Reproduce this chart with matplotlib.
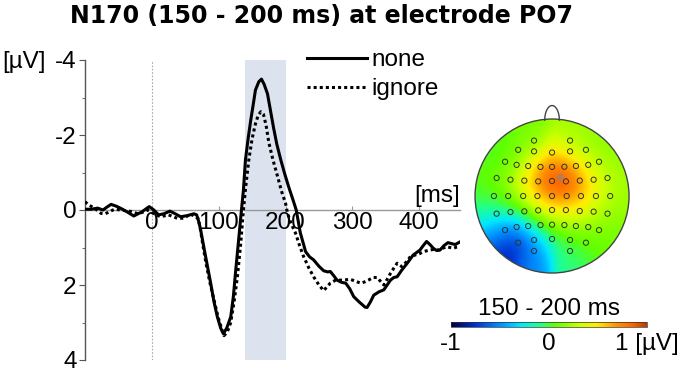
import numpy as np
import matplotlib
matplotlib.use("Agg")
import matplotlib.pyplot as plt
from matplotlib.colors import LinearSegmentedColormap
from matplotlib.patches import Circle
from matplotlib.transforms import blended_transform_factory

plt.rcParams['font.family'] = ['Liberation Sans', 'DejaVu Sans']
plt.rcParams['axes.unicode_minus'] = False

# ---------------- data ----------------
title = "N170 (150 - 200 ms) at electrode PO7"
series_labels = ["none", "ignore"]

t_none = [-100, -91, -81, -73, -67, -61, -53, -46, -37, -27, -15, -4, 3, 10, 18, 27, 35, 43, 53, 63,
          67, 70, 73, 80, 88, 93, 98, 103, 107, 112, 118, 122, 125, 129, 133, 137, 140, 144, 148, 152,
          155, 160, 164, 168, 173, 177, 182, 187, 193, 199, 205, 211, 216, 222, 230, 236, 242, 250, 257,
          263, 267, 272, 277, 284, 290, 296, 302, 310, 319, 322, 327, 332, 340, 347, 352, 357, 362, 367,
          374, 382, 391, 401, 406, 411, 416, 421, 426, 431, 437, 443, 449, 454, 461]
v_none = [-0.02, -0.02, -0.05, 0.0, -0.08, -0.15, -0.10, -0.04, 0.05, 0.16, 0.05, -0.09, 0.0, 0.13, 0.10,
          0.03, 0.10, 0.18, 0.15, 0.10, 0.13, 0.30, 0.53, 1.20, 1.95, 2.45, 2.85, 3.15, 3.30, 3.15, 2.85,
          2.30, 1.70, 0.95, 0.20, -0.53, -1.33, -1.90, -2.40, -2.85, -3.20, -3.42, -3.49, -3.35, -3.10,
          -2.70, -2.20, -1.75, -1.33, -0.95, -0.60, -0.28, 0.0, 0.60, 1.11, 1.25, 1.33, 1.50, 1.62, 1.65,
          1.64, 1.75, 1.87, 1.93, 1.95, 2.10, 2.31, 2.45, 2.59, 2.60, 2.45, 2.27, 2.18, 2.13, 2.00, 1.87,
          1.80, 1.78, 1.60, 1.42, 1.20, 1.07, 0.95, 0.84, 0.92, 1.02, 1.08, 1.07, 0.95, 0.87, 0.90, 0.92,
          0.85]

t_ignore = [-100, -94, -86, -76, -70, -66, -56, -46, -38, -31, -21, -12, -6, 2, 13, 25, 32, 38, 48, 58,
            64, 69, 72, 76, 81, 87, 93, 99, 105, 108, 113, 118, 123, 128, 133, 137, 140, 145, 150, 155,
            159, 163, 167, 171, 175, 181, 188, 194, 200, 203, 208, 215, 221, 227, 235, 242, 250, 257, 262,
            267, 275, 285, 297, 305, 312, 318, 324, 331, 337, 342, 347, 352, 357, 362, 367, 374, 380, 387,
            394, 401, 408, 416, 422, 428, 435, 441, 446, 451, 456, 461]
v_ignore = [-0.22, -0.13, -0.05, 0.09, 0.10, 0.07, -0.02, 0.0, 0.02, 0.04, 0.10, 0.05, 0.0, 0.09, 0.18,
            0.13, 0.18, 0.22, 0.22, 0.10, 0.18, 0.22, 0.44, 0.90, 1.42, 1.95, 2.40, 2.85, 3.20, 3.35, 3.25,
            3.00, 2.45, 1.78, 0.89, 0.0, -0.55, -1.33, -1.90, -2.30, -2.52, -2.62, -2.55, -2.25, -1.80,
            -1.35, -0.90, -0.50, -0.18, 0.09, 0.35, 0.62, 0.95, 1.24, 1.55, 1.78, 2.00, 2.15, 2.05, 1.95,
            1.87, 1.87, 1.85, 1.90, 1.95, 1.92, 1.87, 1.80, 1.80, 1.90, 2.00, 1.85, 1.69, 1.55, 1.42, 1.51,
            1.40, 1.24, 1.20, 1.16, 1.10, 1.07, 1.05, 1.07, 1.02, 0.98, 1.00, 1.02, 0.99, 0.98]

window = (140, 200)
x_ticks = [0, 100, 200, 300, 400]
y_ticks = [-4, -2, 0, 2, 4]

# electrode positions (head radius = 1) and map values [µV]
elec_x = [-0.234, 0.234,
          -0.44, -0.234, 0.0, 0.234, 0.44,
          -0.61, -0.46, -0.31, -0.15, 0.0, 0.16, 0.31, 0.47, 0.61,
          -0.72, -0.54, -0.36, -0.18, 0.0, 0.18, 0.36, 0.54, 0.72,
          -0.755, -0.57, -0.375, -0.19, 0.0, 0.19, 0.375, 0.57, 0.755,
          -0.72, -0.54, -0.36, -0.18, 0.0, 0.18, 0.36, 0.54, 0.72,
          -0.61, -0.46, -0.31, -0.15, 0.0, 0.16, 0.31, 0.47, 0.61,
          -0.44, -0.234, 0.0, 0.234, 0.44,
          -0.234, 0.234]
elec_y = [0.72, 0.72,
          0.60, 0.58, 0.565, 0.58, 0.60,
          0.445, 0.405, 0.39, 0.378, 0.378, 0.38, 0.39, 0.405, 0.445,
          0.234, 0.212, 0.20, 0.19, 0.195, 0.19, 0.20, 0.212, 0.234,
          0.0, 0.0, 0.0, 0.0, 0.0, 0.0, 0.0, 0.0, 0.0,
          -0.229, -0.208, -0.199, -0.186, -0.182, -0.182, -0.195, -0.203, -0.229,
          -0.442, -0.403, -0.39, -0.377, -0.372, -0.377, -0.39, -0.403, -0.442,
          -0.606, -0.571, -0.558, -0.571, -0.606,
          -0.714, -0.714]
elec_v = [0.10, 0.20,
          0.05, 0.25, 0.45, 0.35, 0.15,
          0.0, 0.15, 0.40, 0.65, 0.80, 0.80, 0.60, 0.35, 0.15,
          0.05, 0.20, 0.45, 0.75, 1.00, 1.00, 0.70, 0.45, 0.20,
          0.0, 0.10, 0.30, 0.55, 0.75, 0.75, 0.60, 0.40, 0.20,
          -0.20, -0.05, 0.10, 0.35, 0.50, 0.50, 0.45, 0.30, 0.15,
          -0.55, -0.60, -0.20, 0.0, 0.15, 0.20, 0.20, 0.15, 0.10,
          -0.90, -0.50, -0.15, 0.0, 0.05,
          -0.50, -0.10]
marked_x = [0.104]
marked_y = [0.242]
cbar_range = (-1, 1)
cbar_ticks = [-1, 0, 1]
cbar_ticklabels = ["-1", "0", "1 [µV]"]
cbar_title = "150 - 200 ms"

# ---------------- figure ----------------
W, H = 685, 373
fig = plt.figure(figsize=(W / 100, H / 100), dpi=100)
FS = 17.5

ax = fig.add_axes([85 / W, 13 / H, 375 / W, 300 / H])
ax.axvspan(window[0], window[1], color='#dce3ef', lw=0, zorder=0)
ax.axvline(0, color='#aaaaaa', lw=0.8, ls=(0, (1.5, 1.5)), zorder=1)
ax.plot(t_none, v_none, color='black', lw=2.2, label=series_labels[0], zorder=3)
ax.plot(t_ignore, v_ignore, color='black', lw=2.2, ls=(0, (1, 1)), label=series_labels[1], zorder=3)
ax.set_xlim(-100, 461)
ax.set_ylim(4, -4)

for s in ['top', 'right']:
    ax.spines[s].set_visible(False)
ax.spines['bottom'].set_position(('data', 0))
ax.spines['bottom'].set_color('#999999')
ax.spines['bottom'].set_linewidth(1.0)
ax.spines['left'].set_color('#555555')
ax.spines['left'].set_linewidth(1.0)

ax.set_xticks(x_ticks)
ax.set_yticks(y_ticks)
ax.set_yticks([-3, -1, 1, 3], minor=True)
ax.tick_params(axis='x', direction='in', length=3, color='#999999', labelsize=FS, pad=1.5)
ax.tick_params(axis='y', which='major', direction='out', length=4, color='#555555', labelsize=FS, pad=2)
ax.tick_params(axis='y', which='minor', direction='out', length=2, color='#555555')
ax.set_facecolor('none')

tr = blended_transform_factory(ax.transAxes, ax.transData)
ax.text(1.0, -0.08, "[ms]", transform=tr, ha='right', va='bottom', fontsize=FS)
fig.text(2 / W, 1 - 62 / H, "[µV]", ha='left', va='center', fontsize=FS)

leg = ax.legend(loc='upper left', bbox_to_anchor=(307 / W, 1 - 49 / H), bbox_transform=fig.transFigure,
                frameon=False, fontsize=FS, handlelength=2.45, handletextpad=0.2, labelspacing=0.3,
                borderpad=0, borderaxespad=0)

fig.text(321 / W, 1 - 23 / H, title, ha='center', va='baseline', fontsize=17,
         fontweight='bold', family='DejaVu Sans')

# ---------------- topomap ----------------
cmap = LinearSegmentedColormap.from_list('erp', [
    (0.0, '#000040'), (0.12, '#0030d0'), (0.25, '#0090ff'), (0.36, '#00e8ff'),
    (0.45, '#20ff90'), (0.53, '#60ff00'), (0.66, '#d0ff00'), (0.74, '#ffee00'),
    (0.85, '#ff9000'), (0.93, '#ff6000'), (1.0, '#b04008')])

tx = fig.add_axes([471.2 / W, (H - 276.9) / H, 161.7 / W, 181 / H])
tx.set_xlim(-1.05, 1.05)
tx.set_ylim(-1.05, 1.30)
tx.axis('off')

ex = np.array(elec_x)
ey = np.array(elec_y)
ev = np.array(elec_v)
g = np.linspace(-1, 1, 241)
GX, GY = np.meshgrid(g, g)
d2 = (GX[..., None] - ex) ** 2 + (GY[..., None] - ey) ** 2
wts = np.exp(-d2 / (2 * 0.15 ** 2)) + 1e-12
Z = (wts * ev).sum(-1) / wts.sum(-1)
Z = np.where(GX ** 2 + GY ** 2 <= 1.02, Z, np.nan)
im = tx.imshow(Z, extent=(-1, 1, -1, 1), origin='lower', cmap=cmap, vmin=cbar_range[0],
               vmax=cbar_range[1], interpolation='bilinear', zorder=1)
clip = Circle((0, 0), 1, transform=tx.transData, fc='none', ec='none')
tx.add_patch(clip)
im.set_clip_path(clip)
tx.add_patch(Circle((0, 0), 1, fill=False, ec='#444444', lw=1.0, zorder=3))
th = np.linspace(0, np.pi, 50)
tx.plot(0.095 * np.cos(th), 0.985 + 0.19 * np.sin(th), color='#444444', lw=1.0, zorder=3)
tx.scatter(ex, ey, s=14, facecolors='none', edgecolors='#333333', linewidths=0.7, zorder=4)
tx.scatter(marked_x, marked_y, s=30, color='#888888', alpha=0.6, lw=0, zorder=4)

# ---------------- colorbar ----------------
cax = fig.add_axes([451 / W, (H - 327) / H, 196 / W, 5 / H])
cb = fig.colorbar(im, cax=cax, orientation='horizontal', ticks=cbar_ticks)
cb.ax.set_xticklabels(cbar_ticklabels)
cb.ax.tick_params(length=0, labelsize=FS, pad=4)
cb.outline.set_linewidth(0.5)
cb.outline.set_edgecolor('#333333')
cax.set_title(cbar_title, fontsize=FS, pad=5)

fig.savefig("out.png", dpi=100)
